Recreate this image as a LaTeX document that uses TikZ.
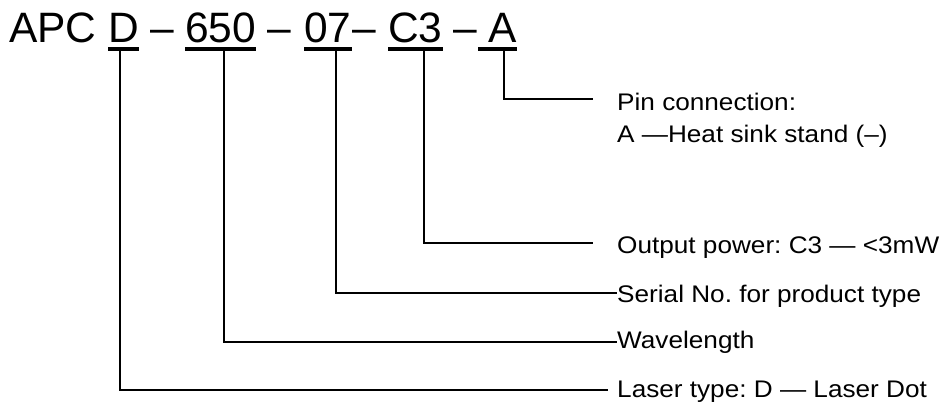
\documentclass[tikz,border=0pt]{standalone}
\usepackage{fontspec}
\setmainfont{Liberation Sans}
\newfontfamily\lblfont[FakeStretch=1.09]{Liberation Sans}
\frenchspacing
\begin{document}
\begin{tikzpicture}[x=1pt,y=-1pt,
  ttl/.style={inner sep=0pt,anchor=base west,font=\fontsize{42.5}{48}\selectfont},
  lbl/.style={inner sep=0pt,anchor=base west,font=\lblfont\fontsize{24}{28}\selectfont},
  uline/.style={line width=4pt},
  conn/.style={line width=2pt}]
\useasboundingbox (0,0) rectangle (949,403);
% title
\node[ttl] (apc) at (9,43) {APC};
\node[ttl] (pD) at (108,43) {D};
\node[ttl] (d1) at (150,43) {–};
\node[ttl] (p650) at (185,43) {650};
\node[ttl] (d2) at (267,43) {–};
\node[ttl] (p07) at (304,43) {07};
\node[ttl] (d3) at (352,43) {–};
\node[ttl] (pC3) at (388,43) {C3};
\node[ttl] (d4) at (453,43) {–};
\node[ttl] (pA) at (488,43) {A};
% underlines
\foreach \n in {pD,p650,p07,pC3}
  \draw[uline] ([yshift=-6pt]\n.base west) -- ([yshift=-6pt]\n.base east);
\draw[uline] ([xshift=-10pt,yshift=-6pt]pA.base west) -- ([yshift=-6pt]pA.base east);
% labels
\node[lbl] (pin) at (617,111) {Pin connection:};
\node[lbl] (heat) at (617,143) {A —Heat sink stand (–)};
\node[lbl] (out) at (617,253) {Output power: C3 — <3mW};
\node[lbl] (ser) at (617,302) {Serial No. for product type};
\node[lbl] (wav) at (617,348) {Wavelength};
\node[lbl] (las) at (617,397) {Laser type: D — Laser Dot};
% connector points
\coordinate (sA) at (504,49);
\coordinate (sC3) at (424,49);
\coordinate (s07) at (336,49);
\coordinate (s650) at (224,49);
\coordinate (sD) at (120,49);
\coordinate (eA) at (593,99);
\coordinate (eC3) at (593,243);
\coordinate (e07) at (ser.west |- 0,293);
\coordinate (e650) at (wav.west |- 0,342);
\coordinate (eD) at (608,390);
\draw[conn] (sA) |- (eA);
\draw[conn] (sC3) |- (eC3);
\draw[conn] (s07) |- (e07);
\draw[conn] (s650) |- (e650);
\draw[conn] (sD) |- (eD);
\end{tikzpicture}
\end{document}
